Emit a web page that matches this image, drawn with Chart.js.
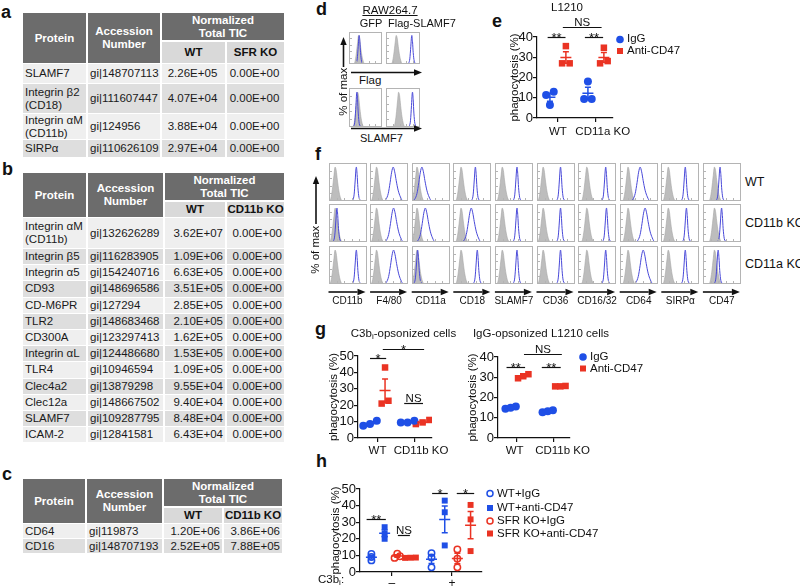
<!DOCTYPE html>
<html>
<head>
<meta charset="utf-8">
<script src="https://cdn.jsdelivr.net/npm/chart.js@4.4.1/dist/chart.umd.min.js"></script>
<style>
  html, body { margin: 0; padding: 0; background: #fff; }
  #page { position: relative; width: 800px; height: 588px; overflow: hidden;
          font-family: "Liberation Sans", Arial, sans-serif; color: #111; }
  .t { position: absolute; white-space: nowrap; line-height: 1; }
  .t sub { font-size: 70%; vertical-align: -2px; line-height: 0; }
  .cell { position: absolute; display: flex; align-items: center; box-sizing: border-box;
          font-size: 11.5px; line-height: 13px; white-space: nowrap; color: #1a1a1a; }
  .hd { background: #6c6c6c; color: #fff; font-weight: bold; justify-content: center; text-align: center; }
  .sub { background: #d9d9d9; font-weight: bold; justify-content: center; color: #111; }
  canvas { position: absolute; }
  svg { position: absolute; left: 0; top: 0; }
</style>
</head>
<body>
<div id="page"></div>
<script>
// ---- tables a, b, c ----
const aProtein = ["SLAMF7", "Integrin β2\n(CD18)", "Integrin αM\n(CD11b)", "SIRPα"];
const aAccession = ["gi|148707113", "gi|111607447", "gi|124956", "gi|110626109"];
const aWT = ["2.26E+05", "4.07E+04", "3.88E+04", "2.97E+04"];
const aKO = ["0.00E+00", "0.00E+00", "0.00E+00", "0.00E+00"];

const bProtein = ["Integrin αM\n(CD11b)", "Integrin β5", "Integrin α5", "CD93", "CD-M6PR", "TLR2", "CD300A",
  "Integrin αL", "TLR4", "Clec4a2", "Clec12a", "SLAMF7", "ICAM-2"];
const bAccession = ["gi|132626289", "gi|116283905", "gi|154240716", "gi|148696586", "gi|127294", "gi|148683468",
  "gi|123297413", "gi|124486680", "gi|10946594", "gi|13879298", "gi|148667502", "gi|109287795", "gi|12841581"];
const bWT = ["3.62E+07", "1.09E+06", "6.63E+05", "3.51E+05", "2.85E+05", "2.10E+05", "1.62E+05",
  "1.53E+05", "1.09E+05", "9.55E+04", "9.40E+04", "8.48E+04", "6.43E+04"];
const bKO = bWT.map(() => "0.00E+00");

const cProtein = ["CD64", "CD16"];
const cAccession = ["gi|119873", "gi|148707193"];
const cWT = ["1.20E+06", "2.52E+05"];
const cKO = ["3.86E+06", "7.88E+05"];

// ---- flow histograms d, f (peak positions in % of the box width) ----
const dCols = ["GFP", "Flag-SLAMF7"];
const dRows = ["Flag", "SLAMF7"];
const dIsoPeak = [[30, 31], [27, 38]];
const dBluePeak = [[31, 76], [24, 78]];

const fMarkers = ["CD11b", "F4/80", "CD11a", "CD18", "SLAMF7", "CD36", "CD16/32", "CD64", "SIRPα", "CD47"];
const fRows = ["WT", "CD11b KO", "CD11a KO"];
const fIsoPeak = [17, 18, 14, 22, 20, 17, 24, 22, 20, 31];
const fBluePeak = [
  [72, 61, 26, 59, 58, 62, 73, 53, 64, 45],
  [21, 62, 35, 48, 58, 62, 75, 66, 67, 49],
  [72, 62, 15, 64, 58, 62, 73, 61, 64, 40]
];
const fBroad = [
  [0, 1, 1, 0, 0, 0, 0, 1, 0, 0],
  [0, 1, 1, 1, 0, 0, 0, 1, 0, 0],
  [0, 1, 0, 0, 0, 0, 0, 1, 0, 0]
];
// histogram outlines: [offset from peak, % of max]
const isoShape = [[-16, 0], [-12, 8], [-8, 35], [-4, 75], [-1, 100], [2, 90], [5, 62], [9, 30], [13, 10], [18, 0]];
const narrowShape = [[-14, 0], [-9, 4], [-6, 18], [-3, 62], [-1, 95], [0, 100], [2, 78], [4, 40], [7, 10], [11, 2], [15, 0]];
const broadShape = [[-26, 0], [-19, 5], [-13, 22], [-8, 55], [-4, 85], [0, 100], [4, 86], [8, 60], [13, 32], [19, 12], [26, 0]];

// ---- phagocytosis (%) e, g, h ----
const eCats = ["WT", "CD11a KO"];
const eIgG = [[13, 11.4, 6.4], [18, 9.4, 9.4]];
const eAnti = [[35.5, 27, 27], [34.7, 27, 28.1]];

const gCats = ["WT", "CD11b KO"];
const gC3IgG = [[10.5, 8.5, 7.5], [10.5, 9.5, 9.5]];
const gC3Anti = [[43, 21, 22.7], [11, 9.5, 8.5]];
const gLIgG = [[14.5, 15, 15.5], [12.7, 13.2, 13.7]];
const gLAnti = [[29.5, 30.5, 31.5], [25.5, 25.5, 25.7]];

const hCats = ["–", "+"];
const hWtIgG = [[10.8, 9, 7], [11.4, 8.8, 2.8]];
const hWtAnti = [[27, 20, 23], [43, 36, 16]];
const hSfrIgG = [[11, 9.5, 8.5], [13.6, 8, 2.8]];
const hSfrAnti = [[8.5, 8.6, 8.7], [40.4, 31.7, 12.6]];

const blueC = '#1f4fe6', redC = '#ea3323';

Chart.defaults.font.family = '"Liberation Sans", Arial, sans-serif';
Chart.defaults.color = '#111';

const page = document.getElementById('page');

function txt(x, base, s, fs, o = {}) {
  const d = document.createElement('div');
  d.className = 't';
  d.innerHTML = s;
  d.style.fontSize = fs + 'px';
  d.style.top = (base - 0.847 * fs) + 'px';
  if (o.align === 'center') { d.style.left = (x - 150) + 'px'; d.style.width = '300px'; d.style.textAlign = 'center'; }
  else d.style.left = x + 'px';
  if (o.bold) d.style.fontWeight = 'bold';
  if (o.under) d.style.textDecoration = 'underline';
  page.appendChild(d);
}
function vtxt(cx, cy, s, fs) {
  const d = document.createElement('div');
  d.className = 't';
  d.textContent = s;
  d.style.fontSize = fs + 'px';
  d.style.left = (cx - 100) + 'px';
  d.style.top = (cy - fs / 2) + 'px';
  d.style.width = '200px';
  d.style.textAlign = 'center';
  d.style.transform = 'rotate(-90deg)';
  page.appendChild(d);
}

function cell(x, y, w, h, html, cls, st = {}) {
  const d = document.createElement('div');
  d.className = 'cell ' + cls;
  d.innerHTML = html;
  Object.assign(d.style, { left: x + 'px', top: y + 'px', width: w + 'px', height: h + 'px' }, st);
  page.appendChild(d);
}

function buildTable(o) {
  const [c0, c1, c2, c3] = o.cols;
  cell(c0[0], o.top, c0[1] - c0[0], o.hdrH + 2 + o.subH, 'Protein', 'hd');
  cell(c1[0], o.top, c1[1] - c1[0], o.hdrH + 2 + o.subH, 'Accession<br>Number', 'hd');
  cell(c2[0], o.top, c3[1] - c2[0], o.hdrH, 'Normalized<br>Total TIC', 'hd');
  cell(c2[0], o.top + o.hdrH + 2, c2[1] - c2[0], o.subH, 'WT', 'sub');
  cell(c3[0], o.top + o.hdrH + 2, c3[1] - c3[0], o.subH, o.ko, 'sub');
  let y = o.top + o.hdrH + 2 + o.subH + 1;
  const jc = o.valAlign === 'center' ? 'center' : 'flex-end';
  o.protein.forEach((p, i) => {
    const h = o.rowH[i];
    const bg = i % 2 ? '#dedede' : '#efefef';
    cell(c0[0], y, c0[1] - c0[0], h, p.replace('\n', '<br>'), '', { background: bg, paddingLeft: '2px' });
    cell(c1[0], y, c1[1] - c1[0], h, o.acc[i], '', { background: bg, paddingLeft: '2px' });
    cell(c2[0], y, c2[1] - c2[0], h, o.wt[i], '', { background: bg, justifyContent: jc, paddingRight: '2px' });
    cell(c3[0], y, c3[1] - c3[0], h, o.kov[i], '', { background: bg, justifyContent: jc, paddingRight: '2px' });
    y += h + 1;
  });
}

buildTable({ cols: [[23, 86], [88, 160], [162, 225], [227, 284]], top: 13, hdrH: 27, subH: 21, ko: 'SFR KO',
  rowH: [19, 29, 25, 17], protein: aProtein, acc: aAccession, wt: aWT, kov: aKO, valAlign: 'center' });
buildTable({ cols: [[23, 86], [88, 163], [165, 225], [227, 284]], top: 173, hdrH: 27, subH: 15, ko: 'CD11b KO',
  rowH: [30].concat(bProtein.slice(1).map(() => 15.2)), protein: bProtein, acc: bAccession, wt: bWT, kov: bKO });
buildTable({ cols: [[23, 85], [87, 162], [164, 222], [224, 282]], top: 479, hdrH: 27, subH: 15, ko: 'CD11b KO',
  rowH: [14, 14], protein: cProtein, acc: cAccession, wt: cWT, kov: cKO });

// ---- histograms ----
function shift(shape, peak) {
  const pts = [{ x: 0, y: 0 }];
  shape.forEach(([dx, v]) => { const x = peak + dx; if (x > 0 && x < 100) pts.push({ x, y: v }); });
  pts.push({ x: 100, y: 0 });
  return pts;
}
const frame = {
  id: 'frame',
  afterDraw(ch) {
    const { ctx, width: w, height: h } = ch;
    ctx.save();
    ctx.strokeStyle = '#b4b4b4';
    ctx.lineWidth = 1;
    ctx.strokeRect(0.5, 0.5, w - 1, h - 1);
    ctx.beginPath();
    for (let i = 1; i < 5; i++) {
      const x = Math.round(w * i / 5) + 0.5, y = Math.round(h * i / 5) + 0.5;
      ctx.moveTo(x, h - 1); ctx.lineTo(x, h - 3);
      ctx.moveTo(1, y); ctx.lineTo(3, y);
    }
    ctx.stroke();
    ctx.restore();
  }
};
function histBox(left, top, w, h, isoPeak, bluePeak, shape) {
  const c = document.createElement('canvas');
  c.width = w; c.height = h;
  c.style.left = left + 'px'; c.style.top = top + 'px';
  page.appendChild(c);
  new Chart(c, {
    type: 'scatter',
    data: { datasets: [
      { data: shift(shape, bluePeak), showLine: true, borderColor: '#4848d8', borderWidth: 1,
        pointRadius: 0, fill: false, cubicInterpolationMode: 'monotone', order: 0 },
      { data: shift(isoShape, isoPeak), showLine: true, borderColor: '#a6a6a6', borderWidth: 0.6,
        backgroundColor: '#bdbdbd', pointRadius: 0, fill: 'origin', cubicInterpolationMode: 'monotone', order: 1 }
    ] },
    options: {
      responsive: false, animation: false, events: [], layout: { padding: 0 },
      scales: { x: { type: 'linear', display: false, min: 0, max: 100 }, y: { display: false, min: 0, max: 112 } },
      plugins: { legend: { display: false }, tooltip: { enabled: false } }
    },
    plugins: [frame]
  });
}

// panel d
const dBoxX = [349, 386], dBoxW = [33, 34], dBoxY = [31.5, 87.5], dBoxH = [32, 39];
dRows.forEach((r, ri) => dCols.forEach((cn, ci) => {
  histBox(dBoxX[ci], dBoxY[ri], dBoxW[ci], dBoxH[ri], dIsoPeak[ri][ci], dBluePeak[ri][ci], narrowShape);
}));

// panel f
fRows.forEach((r, ri) => fMarkers.forEach((m, ci) => {
  histBox(328.5 + ci * 41.6, 163 + ri * 41.3, 38, 38, fIsoPeak[ci], fBluePeak[ri][ci],
    fBroad[ri][ci] ? broadShape : narrowShape);
}));

// ---- dot plots ----
function swarm(vs, thr, step) {
  const idx = vs.map((v, i) => i).sort((a, b) => vs[a] - vs[b]);
  const out = vs.map(() => 0);
  let cl = [idx[0]];
  const flush = () => cl.forEach((k, r) => { out[k] = (r - (cl.length - 1) / 2) * step; });
  for (let i = 1; i < idx.length; i++) {
    if (vs[idx[i]] - vs[idx[i - 1]] < thr) cl.push(idx[i]);
    else { flush(); cl = [idx[i]]; }
  }
  flush();
  return out;
}

const decor = {
  id: 'decor',
  afterDatasetsDraw(chart, args, opts) {
    const { ctx, scales: { x, y } } = chart;
    ctx.save();
    chart.data.datasets.forEach(ds => {
      ds.groups.forEach(g => {
        const n = g.vals.length;
        const m = g.vals.reduce((a, b) => a + b, 0) / n;
        const se = Math.sqrt(g.vals.reduce((a, b) => a + (b - m) ** 2, 0) / (n - 1)) / Math.sqrt(n);
        const px = x.getPixelForValue(g.x), pm = y.getPixelForValue(m);
        const pt = y.getPixelForValue(m + se), pb = y.getPixelForValue(m - se);
        ctx.strokeStyle = ds.borderColor;
        ctx.lineWidth = 1.5;
        ctx.beginPath();
        ctx.moveTo(px - 5.5, pm); ctx.lineTo(px + 5.5, pm);
        ctx.moveTo(px, pt); ctx.lineTo(px, pb);
        ctx.moveTo(px - 3, pt); ctx.lineTo(px + 3, pt);
        ctx.moveTo(px - 3, pb); ctx.lineTo(px + 3, pb);
        ctx.stroke();
      });
    });
    ctx.strokeStyle = '#111';
    ctx.fillStyle = '#111';
    ctx.lineWidth = 1.2;
    ctx.textAlign = 'center';
    ctx.textBaseline = 'alphabetic';
    (opts.brackets || []).forEach(([x1, x2, v, t]) => {
      const a = x.getPixelForValue(x1), b = x.getPixelForValue(x2), py = Math.round(y.getPixelForValue(v)) + 0.5;
      ctx.beginPath(); ctx.moveTo(a, py); ctx.lineTo(b, py); ctx.stroke();
      const star = t.includes('*');
      ctx.font = (star ? 13 : 11.5) + 'px "Liberation Sans", Arial, sans-serif';
      ctx.fillText(t, (a + b) / 2, star ? py + 4 : py - 2);
    });
    ctx.restore();
  }
};

function dotPlot(o) {
  const padR = 32;
  const L = o.ax - o.yW, T = o.yTop - o.padT;
  const W = o.axR - L + padR, H = o.y0 - T + o.xH;
  const c = document.createElement('canvas');
  c.width = W; c.height = H;
  c.style.left = L + 'px'; c.style.top = T + 'px';
  page.appendChild(c);
  const datasets = o.series.map(s => {
    const data = [], groups = [];
    s.vals.forEach((vs, ci) => {
      const cx = ci + s.off;
      const js = swarm(vs, o.thr, o.step);
      vs.forEach((v, j) => data.push({ x: cx + js[j], y: v }));
      groups.push({ x: cx, vals: vs });
    });
    return { data, groups, xAxisID: 'x', yAxisID: 'y', pointStyle: s.shape, pointRadius: s.r, borderColor: s.color,
      backgroundColor: s.open ? 'rgba(255,255,255,0)' : s.color, borderWidth: s.open ? 1.5 : 0 };
  });
  const axisGrid = { drawOnChartArea: false, tickLength: 4, color: '#111', lineWidth: 1.2 };
  new Chart(c, {
    type: 'scatter',
    data: { datasets },
    options: {
      responsive: false, animation: false, events: [],
      layout: { padding: { top: o.padT, right: padR, left: 0, bottom: 0 } },
      scales: {
        x: {
          type: 'linear', position: 'bottom', weight: 0, min: o.xmin, max: o.xmax,
          afterFit: s => { s.height = 4; s.paddingLeft = 0; s.paddingRight = 0; },
          afterBuildTicks: s => { s.ticks = o.cats.map((_, i) => ({ value: i })); },
          ticks: { display: false },
          grid: axisGrid, border: { color: '#111', width: 1.2 }
        },
        xl: {
          type: 'linear', position: 'bottom', axis: 'x', weight: 1, min: o.xmin, max: o.xmax,
          afterFit: s => { s.height = o.xH - 4; s.paddingLeft = 0; s.paddingRight = 0; },
          afterBuildTicks: s => { s.ticks = o.labelAt.map(v => ({ value: v })); },
          ticks: { callback: (v, i) => o.cats[i], font: { size: o.catFs || 11.5 }, color: '#111',
            padding: o.catPad, maxRotation: 0, autoSkip: false },
          grid: { display: false, drawTicks: false }, border: { display: false }
        },
        y: {
          min: 0, max: o.ymax, z: 2,
          afterFit: s => { s.width = o.yW; s.paddingTop = 0; s.paddingBottom = 0; },
          ticks: { stepSize: 10, font: { size: 13 }, color: '#111', padding: 0, autoSkip: false,
            callback: v => String(v) },
          grid: axisGrid, border: { color: '#111', width: 1.2 },
          title: { display: true, text: 'phagocytosis (%)', font: { size: 11.5 }, color: '#111', padding: 0 }
        }
      },
      plugins: { legend: { display: false }, tooltip: { enabled: false }, decor: { brackets: o.brackets } }
    },
    plugins: [decor]
  });
}

dotPlot({ ax: 537, axR: 613, yTop: 37, y0: 118, ymax: 40, yW: 29, padT: 22, xH: 22, catPad: 3,
  xmin: -0.55, xmax: 1.45, cats: eCats, labelAt: [0, 1.18], thr: 2.5, step: 0.2,
  series: [{ vals: eIgG, off: -0.21, color: blueC, shape: 'circle', r: 4 },
           { vals: eAnti, off: 0.21, color: redC, shape: 'rect', r: 4.6 }],
  brackets: [[-0.27, 0.2, 40, '**'], [0.71, 1.19, 40, '**'], [0.13, 1.15, 45, 'NS']] });

dotPlot({ ax: 358, axR: 432, yTop: 356, y0: 438, ymax: 50, yW: 31, padT: 22, xH: 22, catPad: 2,
  xmin: -0.52, xmax: 1.45, cats: gCats, labelAt: [0, 1.16], thr: 3, step: 0.18,
  series: [{ vals: gC3IgG, off: -0.2, color: blueC, shape: 'circle', r: 4 },
           { vals: gC3Anti, off: 0.2, color: redC, shape: 'rect', r: 4.6 }],
  brackets: [[-0.2, 0.23, 48.8, '*'], [0.14, 1.24, 54, '*'], [0.71, 1.21, 21.3, 'NS']] });

dotPlot({ ax: 498, axR: 570, yTop: 356.7, y0: 438, ymax: 40, yW: 32, padT: 20, xH: 22, catPad: 2,
  xmin: -0.51, xmax: 1.43, cats: gCats, labelAt: [-0.06, 1.23], thr: 1.2, step: 0.14,
  series: [{ vals: gLIgG, off: -0.17, color: blueC, shape: 'circle', r: 4 },
           { vals: gLAnti, off: 0.17, color: redC, shape: 'rect', r: 4.6 }],
  brackets: [[-0.28, 0.22, 35, '**'], [0.67, 1.18, 35, '**'], [0.19, 1.21, 41.3, 'NS']] });

dotPlot({ ax: 360, axR: 482, yTop: 489, y0: 572, ymax: 50, yW: 31, padT: 22, xH: 16, catPad: 0,
  xmin: -0.53, xmax: 1.5, cats: hCats, labelAt: [0, 1], catFs: 12, thr: 1.5, step: 0.09,
  series: [{ vals: hWtIgG, off: -0.34, color: blueC, shape: 'circle', r: 3.2, open: true },
           { vals: hWtAnti, off: -0.12, color: blueC, shape: 'rect', r: 4.2 },
           { vals: hSfrIgG, off: 0.09, color: redC, shape: 'circle', r: 3.2, open: true },
           { vals: hSfrAnti, off: 0.31, color: redC, shape: 'rect', r: 4.2 }],
  brackets: [[-0.42, -0.1, 31.7, '**'], [0.1, 0.3, 22.3, 'NS'], [0.67, 0.93, 47.5, '*'], [1.08, 1.37, 47.5, '*']] });

// ---- text ----
[['a', 1, 18], ['b', 2, 175], ['c', 2, 480], ['d', 316, 15], ['e', 492, 27], ['f', 315, 160], ['g', 315, 335], ['h', 316, 467]]
  .forEach(([s, x, b]) => txt(x, b, s, 18, { bold: true }));

txt(390, 15, 'RAW264.7', 11.5, { align: 'center', under: true });
txt(371, 27, dCols[0], 11, { align: 'center' });
txt(388, 27, dCols[1], 11);
txt(359, 85, dRows[0], 11.5);
txt(360, 142, dRows[1], 11);
vtxt(344, 92, '% of max', 11.5);

txt(567, 12, 'L1210', 11.5, { align: 'center' });
txt(627, 43, 'IgG', 11.5);
txt(627, 55, 'Anti-CD47', 11.5);

vtxt(316, 250, '% of max', 11.5);
fMarkers.forEach((m, ci) => txt(328.5 + ci * 41.6 + 19, 304, m, 10, { align: 'center' }));
fRows.forEach((r, ri) => txt(745, 187 + ri * 41, r, 12.5));

txt(403.5, 338, 'C3b<sub>i</sub>-opsonized cells', 11.5, { align: 'center' });
txt(541, 338, 'IgG-opsonized L1210 cells', 11.5, { align: 'center' });
txt(590, 361, 'IgG', 11.5);
txt(590, 372.5, 'Anti-CD47', 11.5);

txt(497, 497.5, 'WT+IgG', 11.5);
txt(497, 511.8, 'WT+anti-CD47', 11.5);
txt(497, 525.2, 'SFR KO+IgG', 11.5);
txt(497, 537.6, 'SFR KO+anti-CD47', 11.5);
txt(318, 584, 'C3b<sub>i</sub>:', 11.5);

// ---- arrows and legend symbols ----
const NS = 'http://www.w3.org/2000/svg';
const svg = document.createElementNS(NS, 'svg');
svg.setAttribute('width', 800); svg.setAttribute('height', 588);
function el(tag, attrs) {
  const e = document.createElementNS(NS, tag);
  for (const k in attrs) e.setAttribute(k, attrs[k]);
  svg.appendChild(e);
}
function arrow(x1, y1, x2, y2) {
  const L = Math.hypot(x2 - x1, y2 - y1), ux = (x2 - x1) / L, uy = (y2 - y1) / L;
  const hl = 8, hw = 3.2;
  const bx = x2 - ux * hl, by = y2 - uy * hl;
  el('line', { x1, y1, x2: bx, y2: by, stroke: '#111', 'stroke-width': 1.6 });
  el('polygon', { points: `${x2},${y2} ${bx - uy * hw},${by + ux * hw} ${bx + uy * hw},${by - ux * hw}`, fill: '#111' });
}
arrow(351, 72.5, 422, 72.5);
arrow(351, 128.5, 422, 128.5);
arrow(343.5, 67, 343.5, 37);
arrow(316, 224, 316, 176);
fMarkers.forEach((m, ci) => { const x0 = 328.5 + ci * 41.6; arrow(x0, 292, x0 + 37, 292); });

el('circle', { cx: 620, cy: 39.5, r: 3.8, fill: blueC });
el('rect', { x: 617, y: 48, width: 6, height: 6, fill: redC });
el('circle', { cx: 583, cy: 357, r: 3.8, fill: blueC });
el('rect', { x: 580, y: 365.5, width: 6, height: 6, fill: redC });
el('circle', { cx: 490, cy: 493.5, r: 3, fill: 'none', stroke: blueC, 'stroke-width': 1.5 });
el('rect', { x: 487, y: 505, width: 6, height: 6, fill: blueC });
el('circle', { cx: 490, cy: 521, r: 3, fill: 'none', stroke: redC, 'stroke-width': 1.5 });
el('rect', { x: 487, y: 530.5, width: 6, height: 6, fill: redC });
page.appendChild(svg);
</script>
</body>
</html>
